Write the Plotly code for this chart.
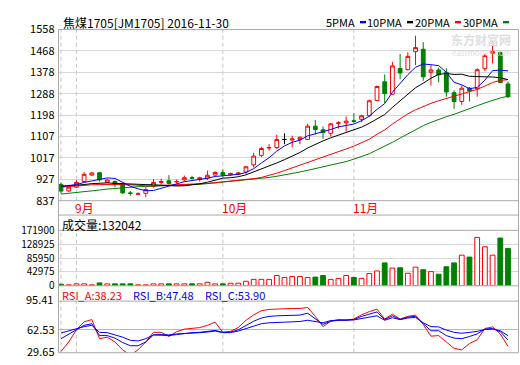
import plotly.graph_objects as go

W, H = 520, 365
FONT = "Noto Sans CJK SC, SimSun, sans-serif"

title_text = "焦煤1705[JM1705] 2016-11-30"
ma_names = ["5PMA", "10PMA", "20PMA", "30PMA"]
ma_colors = ["#0000ff", "#000000", "#ff0000", "#008000"]
month_labels = ["9月", "10月", "11月"]
month_start = [2, 21, 38]
price_ticks = [837, 927, 1017, 1107, 1198, 1288, 1378, 1468, 1558]
vol_ticks = [0, 42975, 85950, 128925, 171900]
rsi_ticks = [29.65, 62.53]
rsi_top_label = "95.41"
vol_label = "成交量:132042"
rsi_labels = ["RSI_A:38.23", "RSI_B:47.48", "RSI_C:53.90"]
rsi_label_colors = ["#ff0000", "#0000ff", "#0000ff"]

opens = [905, 878, 894, 918, 945, 955, 914, 918, 908, 870, 864, 868, 897, 914, 921, 916, 925, 934, 926, 932,
         945, 956, 946, 948, 958, 988, 1028, 1059, 1061, 1095, 1093, 1095, 1095, 1151, 1136, 1121, 1163, 1165, 1174, 1180,
         1195, 1259, 1338, 1286, 1394, 1389, 1465, 1475, 1378, 1388, 1378, 1292, 1255, 1311, 1309, 1393, 1458, 1462, 1329]
highs = [914, 896, 924, 957, 957, 958, 928, 922, 912, 878, 872, 894, 928, 930, 945, 926, 943, 942, 938, 964,
         961, 968, 955, 958, 984, 1039, 1065, 1075, 1115, 1121, 1111, 1108, 1161, 1177, 1150, 1165, 1172, 1192, 1205, 1199,
         1262, 1322, 1369, 1422, 1455, 1462, 1532, 1505, 1408, 1398, 1395, 1302, 1322, 1316, 1395, 1455, 1509, 1466, 1339]
lows = [868, 874, 890, 915, 943, 918, 912, 894, 866, 858, 862, 852, 892, 905, 905, 910, 918, 926, 918, 924,
        942, 937, 942, 944, 950, 977, 1021, 1048, 1055, 1075, 1061, 1075, 1092, 1116, 1098, 1108, 1141, 1128, 1165, 1168,
        1191, 1257, 1248, 1282, 1349, 1386, 1408, 1342, 1322, 1336, 1275, 1224, 1241, 1255, 1275, 1382, 1415, 1335, 1270]
closes = [878, 894, 914, 948, 954, 925, 924, 905, 870, 868, 866, 884, 914, 918, 910, 918, 934, 932, 934, 944,
          956, 945, 952, 954, 980, 1025, 1057, 1061, 1095, 1095, 1097, 1104, 1151, 1137, 1124, 1161, 1165, 1172, 1171, 1195,
          1258, 1318, 1288, 1405, 1375, 1445, 1482, 1359, 1388, 1368, 1295, 1255, 1311, 1299, 1389, 1449, 1465, 1335, 1275]
volumes = [5000, 3000, 6000, 6000, 3000, 9000, 6000, 6000, 6000, 6000, 3000, 3000, 6000, 6000, 6000, 6000, 6000, 6000, 6000, 11000,
           6000, 6000, 8000, 8000, 14000, 20000, 20000, 20000, 32000, 26000, 29000, 29000, 26000, 27000, 32000, 20000, 23000, 32000, 26000, 23000,
           38000, 46000, 71000, 55000, 56000, 39000, 58000, 50000, 44000, 36000, 59000, 71000, 95000, 89000, 150000, 121000, 95000, 148000, 116000]

ma5 = [897, 900, 905, 914, 920, 928, 933, 931, 915, 898, 887, 879, 880, 889, 899, 909, 917, 922, 926, 932,
       939, 941, 944, 948, 956, 972, 996, 1018, 1046, 1068, 1083, 1092, 1110, 1119, 1126, 1137, 1148, 1153, 1160, 1174,
       1193, 1222, 1246, 1294, 1332, 1368, 1399, 1413, 1410, 1406, 1378, 1336, 1325, 1309, 1314, 1345, 1385, 1387, 1384]
ma10 = [898, 900, 901, 905, 909, 912, 912, 910, 908, 907, 906, 905, 904, 902, 900, 899, 900, 903, 908, 915,
        924, 932, 934, 938, 946, 958, 970, 981, 996, 1010, 1024, 1040, 1059, 1075, 1089, 1102, 1114, 1126, 1137, 1147,
        1163, 1183, 1200, 1230, 1258, 1286, 1313, 1332, 1353, 1369, 1373, 1369, 1370, 1361, 1360, 1361, 1358, 1355, 1347]
ma20 = [894, 897, 898, 901, 904, 905, 906, 906, 905, 904, 901, 900, 900, 901, 902, 904, 905, 906, 908, 910,
        913, 916, 919, 921, 925, 930, 935, 943, 953, 964, 975, 987, 1000, 1010, 1021, 1032, 1043, 1055, 1067, 1080,
        1096, 1117, 1135, 1160, 1182, 1203, 1220, 1235, 1247, 1258, 1267, 1276, 1286, 1295, 1306, 1320, 1335, 1344, 1347]
ma30 = [865, 868, 870, 874, 878, 882, 886, 889, 892, 894, 896, 897, 898, 900, 901, 902, 904, 905, 906, 909,
        912, 914, 918, 921, 924, 928, 931, 935, 940, 945, 951, 958, 965, 972, 978, 985, 993, 1002, 1012, 1022,
        1035, 1051, 1066, 1083, 1101, 1119, 1138, 1153, 1167, 1180, 1191, 1201, 1212, 1223, 1237, 1249, 1261, 1270, 1277]

rsi_a = [30.5, 44.6, 62.5, 74.3, 77.6, 49.4, 51.7, 44.6, 32.9, 25.0, 33.0, 44.6, 58.8, 58.8, 52.6, 59.7, 63.5, 64.9, 65.8, 69.1,
         73.8, 58.8, 60.2, 65.8, 76.6, 84.6, 90.7, 92.6, 92.6, 93.6, 94.0, 94.0, 95.5, 82.3, 67.2, 75.2, 77.6, 76.6, 78.5, 84.6,
         89.3, 93.1, 78.5, 85.6, 78.5, 82.3, 84.2, 70.5, 53.1, 54.0, 44.6, 35.2, 32.9, 42.3, 47.9, 64.4, 66.8, 56.4, 38.2]
rsi_b = [49.4, 56.4, 62.5, 69.1, 71.5, 54.0, 54.0, 50.3, 43.7, 39.0, 39.0, 44.6, 55.0, 55.0, 54.0, 55.5, 57.4, 58.3, 58.8, 59.7,
         61.6, 58.8, 59.2, 62.5, 69.1, 75.2, 79.9, 82.3, 83.2, 83.2, 83.7, 84.2, 87.0, 78.5, 70.5, 75.2, 76.6, 76.6, 77.6, 82.3,
         86.0, 88.9, 77.6, 83.2, 77.6, 81.3, 82.3, 71.5, 61.1, 61.1, 54.0, 50.3, 49.4, 52.6, 56.4, 63.5, 64.4, 59.7, 47.5]
rsi_c = [57.8, 61.1, 63.5, 67.2, 69.1, 58.8, 58.3, 55.5, 51.7, 47.0, 46.1, 49.4, 55.0, 55.5, 55.0, 56.4, 57.4, 57.8, 58.3, 59.2,
         60.7, 58.3, 58.3, 60.7, 64.4, 68.2, 71.5, 72.9, 73.8, 73.8, 74.3, 74.8, 76.6, 74.8, 72.9, 76.2, 77.1, 77.1, 77.1, 79.5,
         81.8, 83.2, 76.6, 80.4, 77.6, 79.9, 80.9, 72.9, 67.2, 66.8, 62.1, 58.8, 57.4, 58.8, 60.2, 63.0, 63.5, 61.1, 53.9]

idx = list(range(len(closes)))


def fx(p):
    return p / W


def fy(p):
    return 1 - p / H


X0, X1 = 58.5, 518.5
C0, STEP = 61.0, 7.707
xr = [(X0 - C0) / STEP, (X1 - C0) / STEP]

GRID = "#d6d6d6"
BORDER = "#a9a9a9"
UP, DOWN = "#ff0000", "#008000"

fig = go.Figure()

# candles: regular ones and flat (doji) ones drawn black
reg = [i for i in idx if opens[i] != closes[i]]
flat = [i for i in idx if opens[i] == closes[i]]
fig.add_trace(go.Candlestick(
    x=[idx[i] for i in reg], open=[opens[i] for i in reg], high=[highs[i] for i in reg],
    low=[lows[i] for i in reg], close=[closes[i] for i in reg],
    increasing=dict(line=dict(color=UP, width=1), fillcolor="#ffffff"),
    decreasing=dict(line=dict(color=DOWN, width=1), fillcolor=DOWN),
    xaxis="x", yaxis="y", showlegend=False, hoverinfo="skip"))
if flat:
    fig.add_trace(go.Candlestick(
        x=[idx[i] for i in flat], open=[opens[i] for i in flat], high=[highs[i] for i in flat],
        low=[lows[i] for i in flat], close=[closes[i] for i in flat],
        increasing=dict(line=dict(color="#000000", width=1), fillcolor="#000000"),
        decreasing=dict(line=dict(color="#000000", width=1), fillcolor="#000000"),
        xaxis="x", yaxis="y", showlegend=False, hoverinfo="skip"))

for name, vals, col in zip(ma_names[::-1], [ma30, ma20, ma10, ma5], ma_colors[::-1]):
    fig.add_trace(go.Scatter(x=idx, y=vals, mode="lines", line=dict(color=col, width=1),
                             name=name, xaxis="x", yaxis="y", showlegend=False, hoverinfo="skip"))

up = [c >= o for o, c in zip(opens, closes)]
fig.add_trace(go.Bar(
    x=idx, y=volumes, width=0.62,
    marker=dict(color=["#ffffff" if u else DOWN for u in up],
                line=dict(color=[UP if u else DOWN for u in up], width=1)),
    xaxis="x2", yaxis="y2", showlegend=False, hoverinfo="skip"))

for vals, col in zip([rsi_a, rsi_c, rsi_b], ["#ff0000", "#0000ff", "#0000ff"]):
    fig.add_trace(go.Scatter(x=idx, y=vals, mode="lines", line=dict(color=col, width=1),
                             xaxis="x3", yaxis="y3", showlegend=False, hoverinfo="skip"))

xa = dict(range=xr, domain=[fx(X0), fx(X1)], showgrid=False, showticklabels=False,
          zeroline=False, showline=False, fixedrange=True, ticks="")
tickfont = dict(family=FONT, size=11, color="#000000")
voltickfont = dict(family=FONT, size=10, color="#000000")
ya_common = dict(showline=False, zeroline=False, ticks="", fixedrange=True,
                 gridcolor=GRID, gridwidth=1, ticklabelstandoff=3)

fig.update_layout(
    width=W, height=H, margin=dict(l=0, r=0, t=0, b=0),
    paper_bgcolor="#ffffff", plot_bgcolor="#ffffff",
    xaxis=dict(**xa, anchor="y", rangeslider=dict(visible=False)),
    xaxis2=dict(**xa, anchor="y2"),
    xaxis3=dict(**xa, anchor="y3"),
    yaxis=dict(**ya_common, tickfont=tickfont, domain=[fy(200.5), fy(21.5)], range=[837, 1558],
               tickmode="array", tickvals=price_ticks, ticktext=[str(v) for v in price_ticks], anchor="x"),
    yaxis2=dict(**ya_common, tickfont=voltickfont, domain=[fy(289.5), fy(231.5)], range=[0, 171900],
                tickmode="array", tickvals=vol_ticks, ticktext=[str(v) for v in vol_ticks], anchor="x2"),
    yaxis3=dict(**ya_common, tickfont=tickfont, domain=[fy(359.5), fy(305.5)], range=[28.67, 104.86],
                tickmode="array", tickvals=rsi_ticks, ticktext=["%.2f" % v for v in rsi_ticks], anchor="x3"),
    showlegend=False,
    font=dict(family=FONT, size=11, color="#000000"),
)
fig.update_yaxes(gridcolor=GRID)
fig.layout.yaxis3.gridcolor = "#b8b8b8"

shapes = []
# dashed month separators in every panel
for xn, yn in [("x", "y"), ("x2", "y2"), ("x3", "y3")]:
    for m in [0] + month_start:
        shapes.append(dict(type="line", xref=xn, yref=yn + " domain", x0=m, x1=m, y0=0, y1=1,
                           line=dict(color="#c4c4c4", width=1, dash="4px,3px"), layer="below"))
# panel frames
for yp in [21.5, 200.5, 215.5, 231.5, 289.5, 305.5, 359.5]:
    shapes.append(dict(type="line", xref="paper", yref="paper", x0=fx(X0), x1=fx(X1), y0=fy(yp), y1=fy(yp),
                       line=dict(color=BORDER, width=1), layer="above"))
for xp in [X0, X1]:
    shapes.append(dict(type="line", xref="paper", yref="paper", x0=fx(xp), x1=fx(xp), y0=fy(21.5), y1=fy(359.5),
                       line=dict(color=BORDER, width=1), layer="above"))
# legend swatches
leg_text_right = [357, 404, 452, 500]
for r, col in zip(leg_text_right, ma_colors):
    shapes.append(dict(type="rect", xref="paper", yref="paper", x0=fx(r + 3), x1=fx(r + 9),
                       y0=fy(15), y1=fy(12.5), line=dict(width=0), fillcolor=col))

ann = []
ann.append(dict(text=title_text, x=fx(61), y=fy(14.5), xref="paper", yref="paper", xanchor="left",
                yanchor="middle", showarrow=False, font=dict(family=FONT, size=12, color="#000000")))
for r, name in zip(leg_text_right, ma_names):
    ann.append(dict(text=name, x=fx(r), y=fy(14), xref="paper", yref="paper", xanchor="right",
                    yanchor="middle", showarrow=False, font=dict(family=FONT, size=11, color="#000000")))
# watermark
ann.append(dict(text="<b>东方财富网</b>", x=fx(481), y=fy(31.5), xref="paper", yref="paper", xanchor="center",
                yanchor="middle", showarrow=False, font=dict(family=FONT, size=12, color="#dedede")))
ann.append(dict(text="eastmoney.com", x=fx(481), y=fy(46), xref="paper", yref="paper", xanchor="center",
                yanchor="middle", showarrow=False, font=dict(family=FONT, size=8, color="#dedede")))
# month labels
for m, lab in zip(month_start, month_labels):
    ann.append(dict(text=lab, x=m, xref="x", y=fy(208), yref="paper", xanchor="left", xshift=-3,
                    yanchor="middle", showarrow=False, font=dict(family=FONT, size=12, color="#ff0000")))
ann.append(dict(text=vol_label, x=fx(60), y=fy(225.5), xref="paper", yref="paper", xanchor="left",
                yanchor="middle", showarrow=False, font=dict(family=FONT, size=12, color="#000000")))
rsi_lx = [60, 131, 203]
for lx, lab, col in zip(rsi_lx, rsi_labels, rsi_label_colors):
    ann.append(dict(text=lab, x=fx(lx), y=fy(299.5), xref="paper", yref="paper", xanchor="left",
                    yanchor="middle", showarrow=False, font=dict(family=FONT, size=11, color=col)))
ann.append(dict(text=rsi_top_label, x=fx(55), y=fy(303.5), xref="paper", yref="paper", xanchor="right",
                yanchor="middle", showarrow=False, font=tickfont))

fig.update_layout(shapes=shapes, annotations=ann)

fig.write_html("out.html", config={"displayModeBar": False, "staticPlot": True},
               post_script="document.body.style.margin='0';")
